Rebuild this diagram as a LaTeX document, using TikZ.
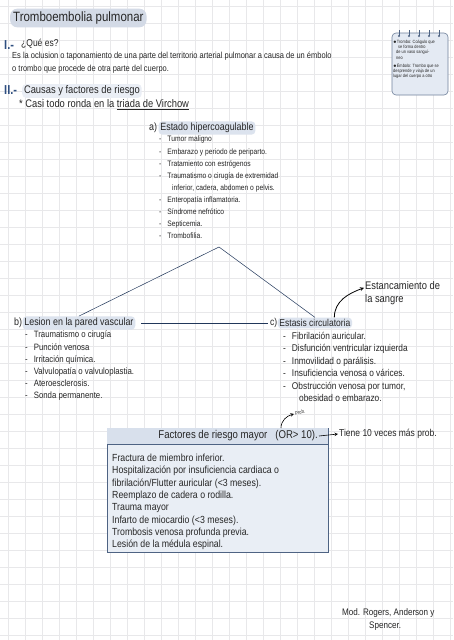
\documentclass[tikz,border=0pt]{standalone}
\usepackage{fontspec}
\setmainfont{Liberation Sans}[FakeStretch=0.85]
\usepackage{xcolor}
\usetikzlibrary{arrows,positioning,calc}
\definecolor{hlblue}{HTML}{DCE3EE}
\definecolor{titlehl}{HTML}{D3DAE6}
\definecolor{inkblue}{HTML}{2F4F80}
\definecolor{boxfill}{HTML}{E9EEF5}
\definecolor{boxhead}{HTML}{D8E0EC}
\definecolor{boxline}{HTML}{4E6383}
\definecolor{gridgray}{HTML}{E8E8EA}
\definecolor{cardfill}{HTML}{E4EAF3}
\newcommand{\fs}[2]{\fontsize{#1}{#2}\selectfont}
\newcommand{\dsh}{-\hspace{6pt}}

\begin{document}
\begin{tikzpicture}[x = 1pt, y = -1pt,
    every node/.style = {inner sep = 1pt, anchor = west, text = black!85},
    hl/.style = {fill = hlblue, rounded corners = 4pt, inner sep = 1.8pt},
    roman/.style = {text = inkblue, font = \fs{13}{13}\bfseries, inner sep = 0pt},
    listtxt/.style = {anchor = north west, align = left}]
    \useasboundingbox (0,0) rectangle (453,640);
    \fill[white] (0,0) rectangle (453,640);
    % squared paper
    \foreach \gx in {8,25,...,453} \draw[gridgray, line width = .4pt] (\gx,0) -- (\gx,640);
    \foreach \gy in {6,23,...,640} \draw[gridgray, line width = .4pt] (0,\gy) -- (453,\gy);

    % heading
    \node[hl, fill = titlehl, rounded corners = 7pt, inner sep = 3pt, font = \fs{13.5}{15}] (title) at (10,18) {Tromboembolia pulmonar};

    % I.- que es
    \node[roman] (one) at (4,45) {I.-};
    \node[font = \fs{10}{12}] (que) at (20,44) {¿Qué es?};
    \node[listtxt, font = \fs{8.8}{13}] (def) at (11,51) {Es la oclusion o taponamiento de una parte del territorio arterial pulmonar a causa de un émbolo\\o trombo que procede de otra parte del cuerpo.};

    % note card
    \draw[boxline!80, fill = cardfill, rounded corners = 4pt, line width = .6pt] (392,33) rectangle (448,95);
    \foreach \rx in {399,409,419,429,439} {
        \draw[boxline, line width = .6pt] (\rx,30) -- (\rx,36);
        \fill[boxline] (\rx,36) circle (1.1);
    }
    \node[listtxt, font = \fs{4.6}{5.2}, inner sep = 0pt] (card) at (393,40) {$\bullet$Trombo: Coágulo que\\\hspace*{5pt}se forma dentro\\\hspace*{3pt}de un vaso sanguí-\\\hspace*{3pt}neo\\[3pt]$\bullet$Émbolo: Trombo que se\\desprende y viaja de un\\lugar del cuerpo a otro};

    % II.- causas
    \node[roman] (two) at (4,90) {II.-};
    \node[hl, fill = hlblue!60, font = \fs{11}{12}] (causas) at (22,91) {Causas y factores de riesgo};
    \node[font = \fs{11}{12}] (virchow) at (18,105) {* Casi todo ronda en la \underline{triada de Virchow}};

    % a) estado hipercoagulable
    \node[font = \fs{10.5}{12}, inner sep = 0pt] (alab) at (149,128) {a)};
    \node[hl, font = \fs{10.5}{12}, right = 1pt of alab] (ahd) {Estado hipercoagulable};
    \node[listtxt, font = \fs{7.9}{12.1}] (alist) at (158,135) {\dsh Tumor maligno\\\dsh Embarazo y periodo de periparto.\\\dsh Tratamiento con estrógenos\\\dsh Traumatismo o cirugía de extremidad\\\hspace*{13pt}inferior, cadera, abdomen o pelvis.\\\dsh Enteropatía inflamatoria.\\\dsh Síndrome nefrótico\\\dsh Septicemia.\\\dsh Trombofilia.};
    \coordinate (apex) at (219,247);

    % b) lesion vascular
    \node[font = \fs{10.5}{12}, inner sep = 0pt] (blab) at (14,323) {b)};
    \node[hl, font = \fs{10.5}{12}, right = 0pt of blab] (bhd) {Lesion en la pared vascular};
    \node[listtxt, font = \fs{9.2}{12.2}] (blist) at (24,330) {\dsh Traumatismo o cirugía\\\dsh Punción venosa\\\dsh Irritación química.\\\dsh Valvulopatía o valvuloplastia.\\\dsh Ateroesclerosis.\\\dsh Sonda permanente.};

    % c) estasis
    \node[font = \fs{10}{12}, inner sep = 0pt] (clab) at (270,323) {c)};
    \node[hl, font = \fs{10}{12}, right = 0pt of clab] (chd) {Estasis circulatoria};
    \node[listtxt, font = \fs{9.8}{12.4}] (clist) at (282,331) {\dsh Fibrilación auricular.\\\dsh Disfunción ventricular izquierda\\\dsh Inmovilidad o parálisis.\\\dsh Insuficiencia venosa o várices.\\\dsh Obstrucción venosa por tumor,\\\hspace*{16pt}obesidad o embarazo.};
    \node[listtxt, font = \fs{11}{13}] (sangre) at (364,280) {Estancamiento de\\la sangre};

    % triada
    \draw[inkblue!70!black, line width = .5pt] (apex) -- (bhd.north);
    \draw[inkblue!70!black, line width = .5pt] (apex) -- (chd.north);
    \draw[inkblue!70!black, line width = .5pt, shorten <= 6pt, shorten >= 2pt] (bhd.east) -- (clab.west);
    \draw[-stealth, line width = .8pt] ([xshift = -18pt]chd.north east) to[out = 90, in = 200] ([yshift = 5pt]sangre.west);

    % factores mayores
    \draw[boxline, fill = boxfill, line width = .8pt] (107,428) rectangle (328,552);
    \fill[boxhead] (107.4,428.4) rectangle (327.6,444);
    \draw[boxline, line width = .6pt] (107,444) -- (328,444);
    \node[anchor = east, font = \fs{11.3}{12}] (mayor) at (319,436) {Factores de riesgo mayor\hspace{8pt}(OR> 10).};
    \node[font = \fs{10}{12}] (tiene) at (338,434) {Tiene 10 veces más prob.};
    \draw[-stealth, line width = .6pt] (mayor.east) -- (tiene.west);
    \coordinate (orpt) at (281,428);
    \node[font = \fs{5}{6}, rotate = 15] (prob) at (294,414) {Prob.};
    \draw[-stealth, line width = .6pt] (orpt) to[out = 90, in = 195] (prob.west);
    \node[listtxt, font = \fs{10.3}{12.3}] (mlist) at (111,453) {Fractura de miembro inferior.\\Hospitalización por insuficiencia cardiaca o\\fibrilación/Flutter auricular (<3 meses).\\Reemplazo de cadera o rodilla.\\Trauma mayor\\Infarto de miocardio (<3 meses).\\Trombosis venosa profunda previa.\\Lesión de la médula espinal.};

    % fuente
    \node[listtxt, font = \fs{9.5}{13}] (fuente) at (341,607) {Mod. Rogers, Anderson y\\\hspace*{27pt}Spencer.};
\end{tikzpicture}
\end{document}
